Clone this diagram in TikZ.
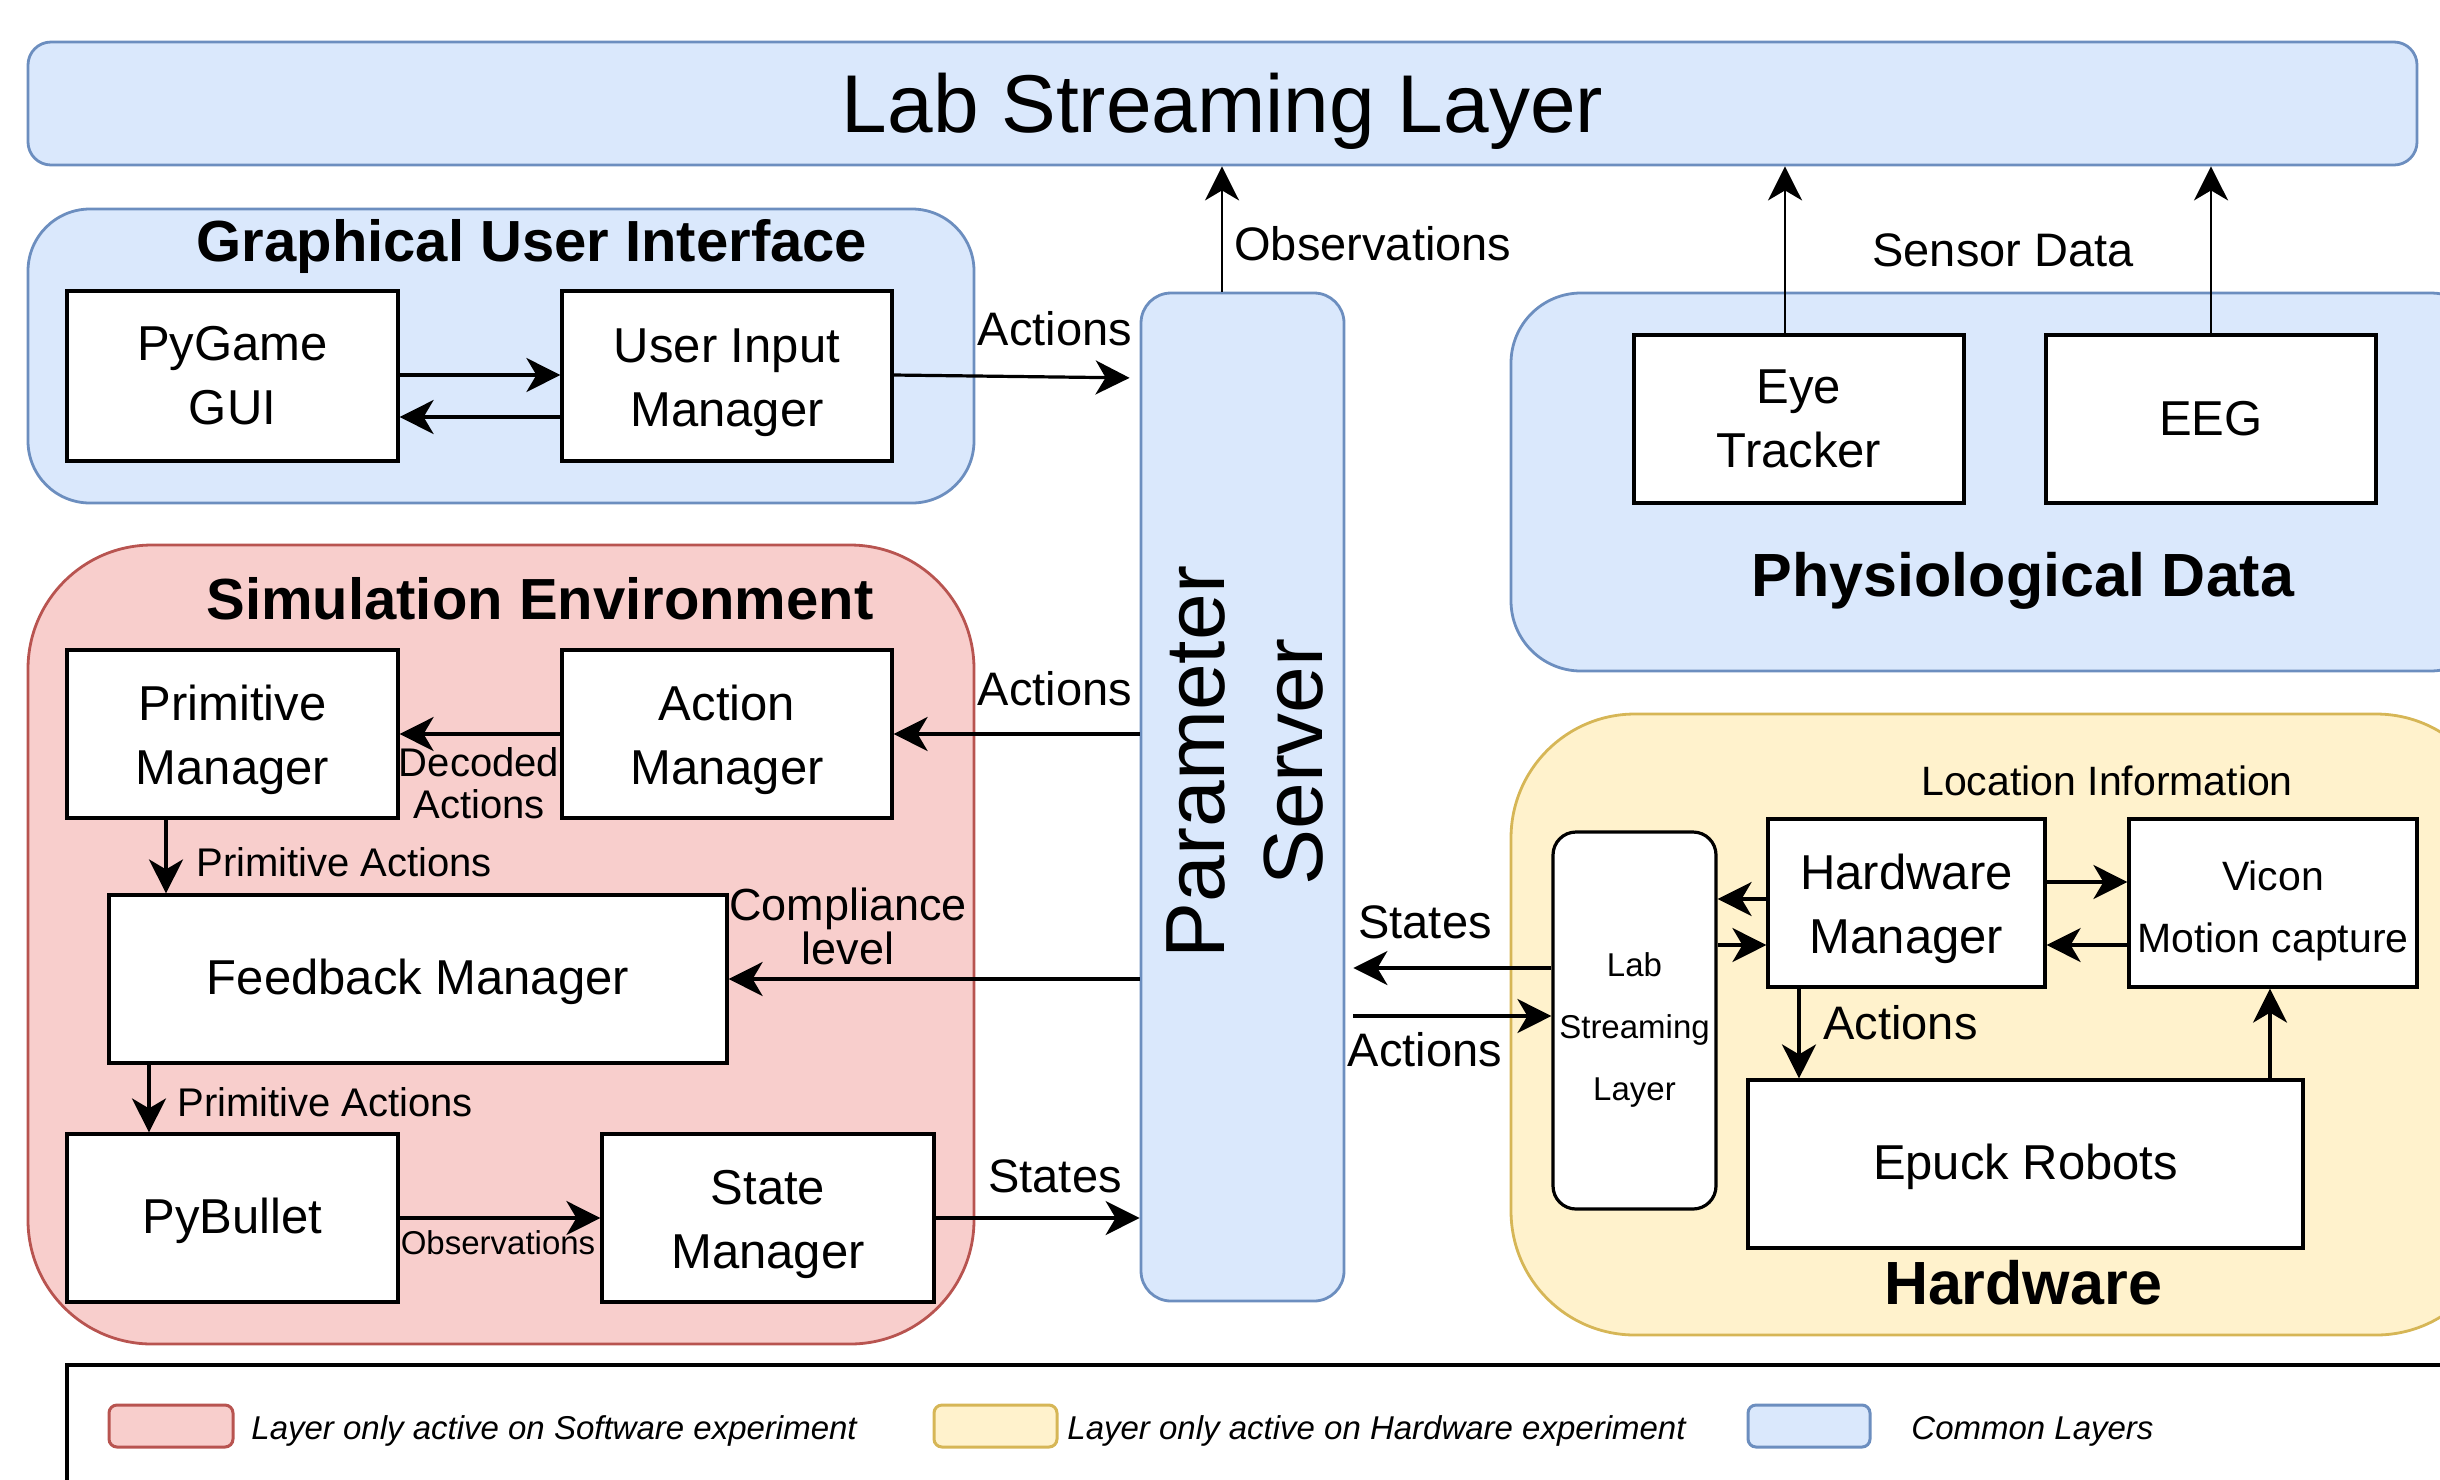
\documentclass[tikz,border=0pt]{standalone}
\usepackage{fontspec}
\setmainfont{Liberation Sans}
\usetikzlibrary{arrows.meta,fit}
\definecolor{bfill}{HTML}{DAE8FC}
\definecolor{bline}{HTML}{6C8EBF}
\definecolor{rfill}{HTML}{F8CECC}
\definecolor{rline}{HTML}{B85450}
\definecolor{yfill}{HTML}{FFF2CC}
\definecolor{yline}{HTML}{D6B656}
\newcommand\myfs[2]{\fontsize{#1}{#2}\selectfont}
\newcommand\tallr[1]{\rule{0pt}{#1}}
\tikzset{
  layblue/.style={draw=bline, fill=bfill, line width=1.4pt, inner sep=0pt},
  layred/.style={draw=rline, fill=rfill, line width=1.4pt, inner sep=0pt},
  layyel/.style={draw=yline, fill=yfill, line width=1.4pt, inner sep=0pt},
  blk/.style={draw=black, fill=white, line width=1.6pt, inner sep=0pt, align=center, font=\myfs{24.5}{32}},
  arr/.style={draw=black, line width=1.6pt, -{Stealth[length=17pt,width=17pt,inset=5pt]}},
  thinarr/.style={draw=black, line width=1.3pt, -{Stealth[length=17pt,width=17pt,inset=5pt]}},
  lbl/.style={inner sep=0pt, font=\myfs{23.5}{28}},
  smlbl/.style={inner sep=0pt, font=\myfs{20}{21}},
  ttl/.style={inner sep=0pt, font=\bfseries\myfs{29}{34}},
  leg/.style={inner sep=0pt, font=\itshape\myfs{16.5}{20}},
}
\begin{document}
\begin{tikzpicture}[x=0.5pt,y=-0.5pt]
\useasboundingbox (0,0) rectangle (2440,1479);
\clip (0,0) rectangle (2440,1479);

% ---------- Lab Streaming Layer ----------
\node[layblue, rounded corners=11.5pt, minimum width=1194.5pt, minimum height=61.5pt, font=\myfs{41}{48}] (lsl) at (1222.5,103.5) {\tallr{38pt}Lab Streaming Layer};

% ---------- GUI ----------
\node[layblue, rounded corners=31pt, minimum width=473pt, minimum height=147pt] (gui) at (501,356) {};
\node[ttl, anchor=base] (guit) at (532,261) {Graphical User Interface};
\node[blk, minimum width=165.5pt, minimum height=85pt] (pygame) at (232.5,376) {PyGame\\GUI};
\node[blk, minimum width=165pt, minimum height=85pt] (uim) at (727,376) {\tallr{24pt}User Input\\Manager};

% ---------- Parameter Server ----------
\node[layblue, rounded corners=15pt, minimum width=101.5pt, minimum height=504pt] (ps) at (1242.5,797) {};
\node[rotate=90, align=center, inner sep=0pt, font=\myfs{42}{49}] (pst) at (1245,762) {Parameter\\Server};

% ---------- Physiological Data ----------
\node[layblue, rounded corners=35pt, minimum width=494.5pt, minimum height=189pt] (phys) at (2005.5,482) {};
\node[ttl, anchor=base, font=\bfseries\myfs{30.5}{34}] (physt) at (2023,596) {Physiological Data};
\node[blk, minimum width=165pt, minimum height=84pt] (eye) at (1799,419) {Eye\\Tracker};
\node[blk, minimum width=165pt, minimum height=84pt] (eeg) at (2211,419) {EEG};

% ---------- Simulation Environment ----------
\node[layred, rounded corners=62pt, minimum width=473pt, minimum height=399.5pt] (sim) at (501,944.5) {};
\node[ttl, anchor=base] (simt) at (540,619) {Simulation Environment};
\node[blk, minimum width=165.5pt, minimum height=84pt] (prim) at (232.5,734) {\tallr{24pt}Primitive\\Manager};
\node[blk, minimum width=165pt, minimum height=84pt] (act) at (727,734) {\tallr{24pt}Action\\Manager};
\node[blk, minimum width=309pt, minimum height=84pt] (fb) at (418,979) {\tallr{21pt}Feedback Manager};
\node[blk, minimum width=165.5pt, minimum height=84pt] (pyb) at (232.5,1218) {\tallr{21pt}PyBullet};
\node[blk, minimum width=166pt, minimum height=84pt] (stm) at (768,1218) {\tallr{24pt}State\\Manager};

% ---------- Hardware ----------
\node[layyel, rounded corners=62pt, minimum width=494.5pt, minimum height=310.5pt] (hw) at (2005.5,1024.5) {};
\node[ttl, anchor=base, font=\bfseries\myfs{30.5}{34}] (hwt) at (2023,1304) {Hardware};
\node[draw=black, fill=white, line width=1.6pt, inner sep=0pt, rounded corners=11.5pt, align=center,
      font=\myfs{16.5}{31}, minimum width=81.5pt, minimum height=188.5pt] (lslin) at (1634.5,1020.5) {\tallr{21pt}Lab\\Streaming\\Layer};
\node[blk, minimum width=138.5pt, minimum height=84pt] (hm) at (1906.5,903) {\tallr{24pt}Hardware\\Manager};
\node[blk, font=\myfs{20.5}{31}, minimum width=144pt, minimum height=84pt] (vic) at (2273,903) {\tallr{22.5pt}Vicon\\Motion capture};
\node[blk, minimum width=277.5pt, minimum height=84pt] (ep) at (2025.5,1164) {\tallr{21pt}Epuck Robots};
\node[inner sep=0pt, anchor=base, font=\myfs{20.5}{24}] (loc) at (2107,795) {Location Information};

% ---------- Arrows: GUI ----------
\draw[arr] (pygame.east |- 0,375) -- (uim.west |- 0,375);
\draw[arr] (uim.west |- 0,417) -- (pygame.east |- 0,417);
\draw[arr, shorten >=5pt] (uim.east |- 0,375) -- (ps.west |- 0,378);
\node[lbl, anchor=base] (lblA1) at (1055,345) {Actions};

% ---------- Arrows: to LSL ----------
\draw[thinarr] (ps.north -| 1222,0) -- (lsl.south -| 1222,0);
\node[lbl, anchor=base west] (lblObs) at (1234,260) {Observations};
\draw[thinarr] (eye.north -| 1785,0) -- (lsl.south -| 1785,0);
\draw[thinarr] (eeg.north) -- (lsl.south -| eeg.north);
\node[lbl, anchor=base] (lblSD) at (2003,266) {Sensor Data};

% ---------- Arrows: Simulation ----------
\draw[arr] (ps.west |- 0,734) -- (act.east |- 0,734);
\node[lbl, anchor=base] (lblA2) at (1055,705) {Actions};
\draw[arr] (act.west |- 0,734) -- (prim.east |- 0,734);
\node[smlbl, align=center] (lblDec) at (479,783) {Decoded\\Actions};
\draw[arr] (prim.south -| 166,0) -- (fb.north -| 166,0);
\node[lbl, anchor=base west, font=\myfs{20}{24}] (lblPA1) at (196,876) {Primitive Actions};
\draw[arr] (ps.west |- 0,979) -- (fb.east |- 0,979);
\node[lbl, align=center, font=\myfs{22.5}{22}] (lblComp) at (848,926) {Compliance\\level};
\draw[arr] (fb.south -| 149,0) -- (pyb.north -| 149,0);
\node[lbl, anchor=base west, font=\myfs{20}{24}] (lblPA2) at (177,1116) {Primitive Actions};
\draw[arr] (pyb.east |- 0,1218) -- (stm.west |- 0,1218);
\node[lbl, anchor=base, font=\myfs{16.5}{20}] (lblObs2) at (498,1254) {Observations};
\draw[arr] (stm.east |- 0,1218) -- (ps.west |- 0,1218);
\node[lbl, anchor=base] (lblSt1) at (1055,1192) {States};

% ---------- Arrows: Hardware ----------
\draw[arr, shorten >=4pt] (lslin.west |- 0,968) -- (ps.east |- 0,968);
\node[lbl, anchor=base] (lblSt2) at (1425,938) {States};
\draw[arr, shorten <=4pt] (ps.east |- 0,1016) -- (lslin.west |- 0,1016);
\node[lbl, anchor=base] (lblA3) at (1425,1066) {Actions};
\draw[arr] (hm.west |- 0,899) -- (lslin.east |- 0,899);
\draw[arr] (lslin.east |- 0,945) -- (hm.west |- 0,945);
\draw[arr] (hm.east |- 0,882) -- (vic.west |- 0,882);
\draw[arr] (vic.west |- 0,945) -- (hm.east |- 0,945);
\draw[arr] (hm.south -| 1799,0) -- (ep.north -| 1799,0);
\node[lbl, anchor=base west] (lblA4) at (1823,1039) {Actions};
\draw[arr] (ep.north -| 2270,0) -- (vic.south -| 2270,0);

% ---------- Legend ----------
\node[draw=black, line width=2pt, inner sep=0pt, fit={(67,1365)(2520,1540)}] (legend) {};
\node[layred, line width=1.5pt, rounded corners=4pt, fit={(109,1405)(233,1447)}] (sw1) {};
\node[leg, anchor=base west] (lg1) at (251,1439) {Layer only active on Software experiment};
\node[layyel, line width=1.5pt, rounded corners=4pt, fit={(934,1405)(1057,1447)}] (sw2) {};
\node[leg, anchor=base west] (lg2) at (1067,1439) {Layer only active on Hardware experiment};
\node[layblue, line width=1.5pt, rounded corners=4pt, fit={(1748,1405)(1870,1447)}] (sw3) {};
\node[leg, anchor=base west] (lg3) at (1911,1439) {Common Layers};
\end{tikzpicture}
\end{document}
